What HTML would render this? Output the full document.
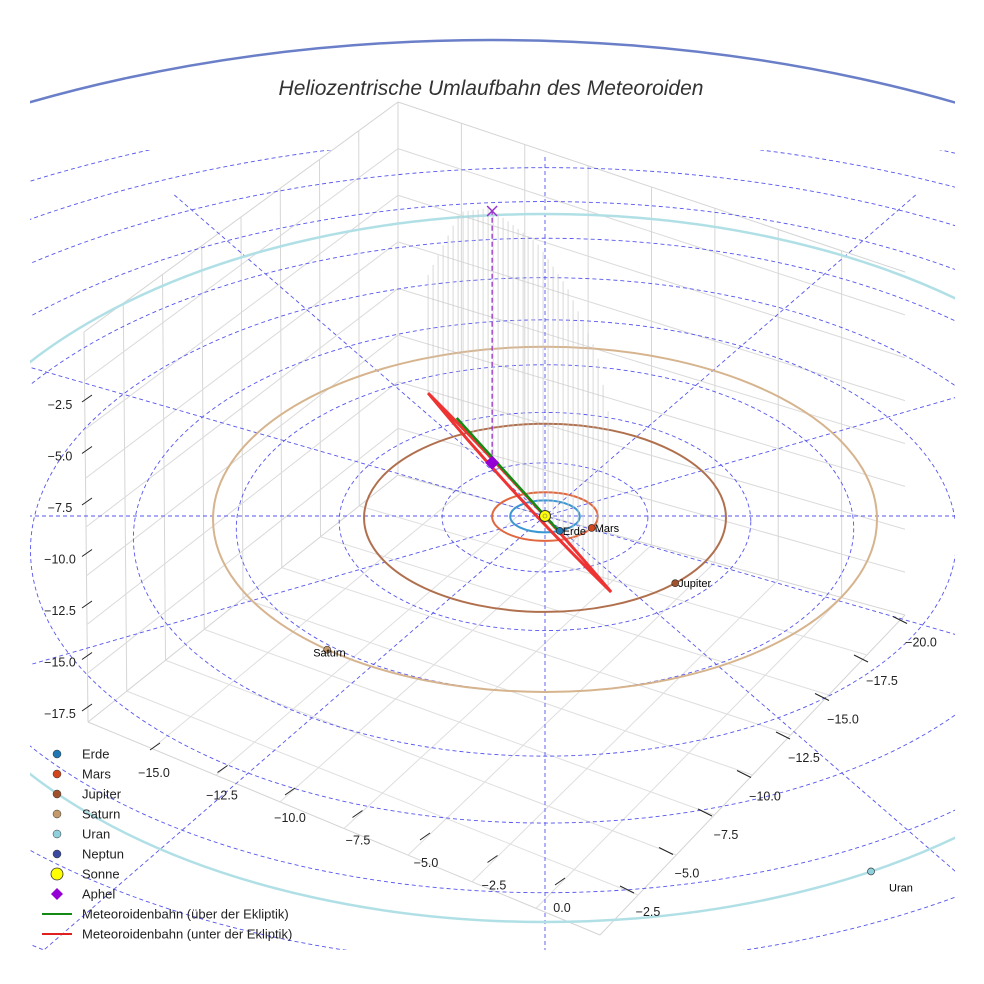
<!DOCTYPE html>
<html><head><meta charset="utf-8"><style>
html,body{margin:0;padding:0;background:#fff;overflow:hidden;width:984px;height:984px}
svg{display:block;font-family:"Liberation Sans",sans-serif;overflow:hidden}
</style></head><body>
<svg id="c" width="984" height="984" viewBox="0 0 984 984">
<defs><clipPath id="cp"><rect x="30" y="20" width="925" height="935"/></clipPath>
<clipPath id="cr"><rect x="30" y="150" width="925" height="800"/></clipPath></defs>
<g id="box"></g>
<g id="rings" clip-path="url(#cr)"></g>
<g id="orbits" clip-path="url(#cp)"></g>
<g id="drops"></g>
<g id="met"></g>
<g id="planets"></g>
<g id="ticks"></g>
<g id="legend"></g>
<text x="491" y="95" text-anchor="middle" font-size="21" font-style="italic" fill="#333">Heliozentrische Umlaufbahn des Meteoroiden</text>
</svg>
<script>
const NS="http://www.w3.org/2000/svg";
// ---- data ----
const planetNames=["Erde","Mars","Jupiter","Saturn","Uran","Neptun"];
const planetAU=[1.0,1.52,5.2,9.54,19.2,30.1];
const planetColors=["#1f77b4","#d2461e","#a0522d","#c49a6c","#8fd0dc","#3a4aa0"];
const orbitColors=["#3b97d3","#e0673e","#b0704e","#d6b48e","#b0e0e6","#6a7fc8"];
const planetAngleDeg=[-65,-28,-44,-131,-59,0];
const zTicks=["−2.5","−5.0","−7.5","−10.0","−12.5","−15.0","−17.5"];
const xTicks=["−15.0","−12.5","−10.0","−7.5","−5.0","−2.5","0.0"];
const yTicks=["−2.5","−5.0","−7.5","−10.0","−12.5","−15.0","−17.5","−20.0"];
const ringAU=[3,6,9,12,15,18,21,24,27,30];
const radialDeg=[0,30,60,90,120,150];
const metStartAU=[-3.36,6.47], metEndAU=[1.9,-4.0]; // ecliptic plane coords (x,y) in AU
const metAphelFrac=0.35;
// ---- projection ----
const CX=545,CY=516,S=34.8;
function ell(r){
  if(r>25) return {cx:492,cy:590,rx:1000,ry:550};
  if(r>15) return {cx:545,cy:568,rx:633,ry:354};
  const rx=S*r; return {cx:CX,cy:CY+0.35*r,rx:rx,ry:rx*(r<2?0.46:0.52)};
}
function ringEll(r){const rx=34.3*r;return {cx:CX,cy:CY+52*(rx/633)*(rx/633),rx:rx,ry:rx*0.53};}
function P(r,deg){const e=ell(r),a=deg*Math.PI/180;return [e.cx+e.rx*Math.cos(a),e.cy-e.ry*Math.sin(a)];}
function Q(x,y){return [CX+S*x, CY-S*0.546*y];}
function mk(tag,at,par,name){const el=document.createElementNS(NS,tag);for(const k in at)el.setAttribute(k,at[k]);

document.getElementById(par).appendChild(el);return el;}
// box
const L=[88,722],F=[600,935],R=[905,615],Bk=[398,475],TL=[84,332],Top=[398,102],TR=[905,272];
function lerp(a,b,t){return [a[0]+(b[0]-a[0])*t,a[1]+(b[1]-a[1])*t];}
function ln(a,b,c,name){mk('line',{x1:a[0],y1:a[1],x2:b[0],y2:b[1],stroke:c,'stroke-width':1},'box',name);}
[[L,F],[F,R],[R,Bk],[Bk,L],[TL,Top],[Top,TR],[Top,Bk],[TL,L]].forEach(e=>ln(e[0],e[1],'#d4d4d4','box-edge'));
for(let i=1;i<8;i++){const t=i/8;
ln(lerp(L,F,t),lerp(Bk,R,t),'#dedede','floor-grid');
ln(lerp(L,Bk,t),lerp(F,R,t),'#dedede','floor-grid');
ln(lerp(L,Bk,t),lerp(TL,Top,t),'#d6d6d6','wall-grid');
ln(lerp(Bk,R,t),lerp(Top,TR,t),'#d6d6d6','wall-grid');
ln(lerp(TL,L,t),lerp(Top,Bk,t),'#dadada','wall-grid');
ln(lerp(Top,Bk,t),lerp(TR,R,t),'#dadada','wall-grid');}
// rings
ringAU.forEach(r=>{const e=ringEll(r);mk('ellipse',{cx:e.cx,cy:e.cy,rx:e.rx,ry:e.ry,fill:'none',stroke:'#5555ee','stroke-width':0.9,'stroke-dasharray':'4 3'},'rings','grid-ring');});
radialDeg.forEach(d=>{const a=d*Math.PI/180,dx=Math.cos(a),dy=-0.5*Math.sin(a);
const top=d==90?157:195;let s=2000;if(Math.abs(dy)>1e-6)s=Math.min(s,(CY-top)/Math.abs(dy));
mk('line',{x1:CX+dx*s,y1:CY+dy*s,x2:CX-dx*2000,y2:CY-dy*2000,stroke:'#5555ee','stroke-width':0.9,'stroke-dasharray':'4 3'},'rings','grid-radial');});
// orbits
planetAU.forEach((r,i)=>{const e=ell(r);mk('ellipse',{cx:e.cx,cy:e.cy,rx:e.rx,ry:e.ry,fill:'none',stroke:orbitColors[i],'stroke-width':i>=4?2.5:2},'orbits','orbit-'+planetNames[i].toLowerCase());});
// meteoroid
const A=Q(metStartAU[0],metStartAU[1]),B=Q(metEndAU[0],metEndAU[1]);
const T=[[427,277],[460,212],[490,208],[537,243],[567,287],[597,353],[613,437]];
function topY(x){for(let i=0;i<T.length-1;i++)if(x<=T[i+1][0]){const t=(x-T[i][0])/(T[i+1][0]-T[i][0]);return T[i][1]+t*(T[i+1][1]-T[i][1]);}return T[T.length-1][1];}
for(let x=A[0];x<=B[0]-2;x+=5){const y=A[1]+(x-A[0])*(B[1]-A[1])/(B[0]-A[0]);mk('line',{x1:x,y1:topY(x),x2:x,y2:y,stroke:'#c8c8c8','stroke-width':0.7},'drops','drop-line');}
mk('path',{d:`M${A[0]},${A[1]} Q${(A[0]+B[0])/2-5},${(A[1]+B[1])/2+5} ${B[0]},${B[1]} Q${(A[0]+B[0])/2+4},${(A[1]+B[1])/2-4} ${A[0]},${A[1]}`,fill:'none',stroke:'#ee3333','stroke-width':3},'met','orbit-below-ecliptic');
const g0=[A[0]+(B[0]-A[0])*0.14+3,A[1]+(B[1]-A[1])*0.14-3],g1=[A[0]+(B[0]-A[0])*0.72,A[1]+(B[1]-A[1])*0.72-4];
mk('line',{x1:g0[0],y1:g0[1],x2:g1[0],y2:g1[1],stroke:'#138a13','stroke-width':2.5},'met','orbit-above-ecliptic');
const ap=[A[0]+(B[0]-A[0])*metAphelFrac,A[1]+(B[1]-A[1])*metAphelFrac];
mk('line',{x1:ap[0],y1:ap[1],x2:ap[0],y2:211,stroke:'#9932cc','stroke-width':1.3,'stroke-dasharray':'5 3'},'met','aphel-height-line');
mk('path',{d:`M${ap[0]-5},206 l10,10 M${ap[0]+5},206 l-10,10`,stroke:'#9932cc','stroke-width':1.5},'met','aphel-projection-marker');
mk('path',{d:`M${ap[0]},${ap[1]-7} l7,7 l-7,7 l-7,-7z`,fill:'#9400d3'},'met','aphel-marker');
// planets
planetAU.forEach((r,i)=>{if(i==5)return;const p=P(r,planetAngleDeg[i]);mk('circle',{cx:p[0],cy:p[1],r:3.5,fill:planetColors[i],stroke:'#222','stroke-width':0.6},'planets','planet-'+planetNames[i].toLowerCase());
const t=mk('text',{x:p[0]+(i==3?-14:i==4?18:3),y:p[1]+(i==3?7:i==4?20:4),'font-size':11,fill:'#000'},'planets','planet-label');t.textContent=planetNames[i];});
mk('circle',{cx:CX,cy:CY,r:5.5,fill:'#ffff00',stroke:'#333','stroke-width':1},'planets','sun');
mk('circle',{cx:CX,cy:CY,r:2,fill:'none',stroke:'#777','stroke-width':0.6},'planets','sun-core');
// ticks
function tl(x,y,s,name,tx,ty){mk('line',{x1:x,y1:y,x2:x+10,y2:y-7,stroke:'#222','stroke-width':1},'ticks','tick-mark');const t=mk('text',{x:tx,y:ty,'font-size':12.5,fill:'#222','text-anchor':'middle'},'ticks',name);t.textContent=s;}
zTicks.forEach((s,i)=>tl(82,402+i*51.5,s,'z-tick-label',60,409+i*51.5));
xTicks.forEach((s,i)=>tl(150+i*67.5,750+i*22.5,s,'x-tick-label',154+i*68,777+i*22.5));
yTicks.forEach((s,i)=>{const x=620+i*39,y=886-i*38.5;mk('line',{x1:x,y1:y,x2:x+14,y2:y+7,stroke:'#222','stroke-width':1},'ticks','tick-mark');const t=mk('text',{x:x+28,y:y+30,'font-size':12.5,fill:'#222','text-anchor':'middle'},'ticks','y-tick-label');t.textContent=s;});
// legend
const legNames=["Erde","Mars","Jupiter","Saturn","Uran","Neptun","Sonne","Aphel","Meteoroidenbahn (über der Ekliptik)","Meteoroidenbahn (unter der Ekliptik)"];
legNames.forEach((n,i)=>{const y=754+i*20;
if(i<6)mk('circle',{cx:57,cy:y,r:4,fill:planetColors[i],stroke:'#333','stroke-width':0.5},'legend','legend-marker');
else if(i==6)mk('circle',{cx:57,cy:y,r:6,fill:'#ffff00',stroke:'#333','stroke-width':0.8},'legend','legend-marker');
else if(i==7)mk('path',{d:`M57,${y-6} l6,6 l-6,6 l-6,-6z`,fill:'#9400d3'},'legend','legend-marker');
else mk('line',{x1:42,y1:y,x2:72,y2:y,stroke:i==8?'#138a13':'#e02020','stroke-width':2},'legend','legend-line');
const t=mk('text',{x:82,y:y+4.5,'font-size':13,fill:'#222'},'legend','legend-entry');t.textContent=n;});
</script>
</body></html>
